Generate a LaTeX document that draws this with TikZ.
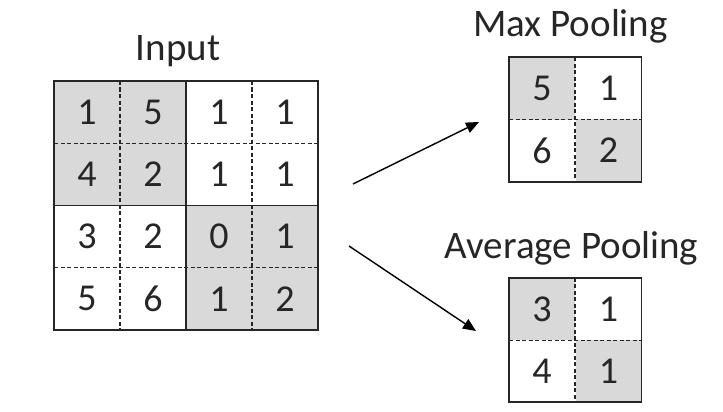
\documentclass[tikz,border=0pt]{standalone}
\usepackage{fontspec}
\setmainfont{Carlito}
\usetikzlibrary{arrows.meta}
\definecolor{graybg}{HTML}{D9D9D9}
\definecolor{ink}{HTML}{262626}
\tikzset{
  cell/.style={minimum width=66pt, minimum height=62.25pt, inner sep=0pt, outer sep=0pt,
    font=\fontsize{38}{38}\selectfont, text=ink},
  pcell/.style={cell, minimum height=62.25pt},
  shaded/.style={fill=graybg},
  dashline/.style={line width=1.1pt, draw=ink, dash pattern=on 4pt off 2.5pt},
  frame/.style={line width=1.8pt, draw=ink},
  title/.style={font=\fontsize{39}{39}\selectfont, text=ink, anchor=base, inner sep=0pt},
  conn/.style={line width=1.4pt, draw=black, -{Triangle[length=13pt,width=11pt]}}
}
\begin{document}
\begin{tikzpicture}[x=1pt,y=-1pt]
\useasboundingbox (0,0) rectangle (723,412);
% input grid
\foreach \r/\row in {1/{1,5,1,1},2/{4,2,1,1},3/{3,2,0,1},4/{5,6,1,2}} {
  \foreach \v [count=\c] in \row {
    \pgfmathtruncatemacro{\sh}{((\r<3)&&(\c<3)) || ((\r>2)&&(\c>2)) ? 1 : 0}
    \ifnum\sh=1
      \node[cell, shaded] (i\r\c) at ({54+66*(\c-0.5)},{81+62.25*(\r-0.5)}) {\v};
    \else
      \node[cell] (i\r\c) at ({54+66*(\c-0.5)},{81+62.25*(\r-0.5)}) {\v};
    \fi
  }
}
\draw[dashline] (i11.north east) -- (i41.south east);
\draw[dashline] (i13.north east) -- (i43.south east);
\draw[dashline] (i11.south west) -- (i14.south east);
\draw[dashline] (i31.south west) -- (i34.south east);
\draw[frame] (i12.north east) -- (i42.south east);
\draw[frame] (i21.south west) -- (i24.south east);
\draw[frame] (i11.north west) rectangle (i44.south east);
\node[title] (tin) at (178,60) {Input};

% max pooling
\node[pcell, shaded] (m11) at (542,88.5) {5};
\node[pcell] (m12) at (608.5,88.5) {1};
\node[pcell] (m21) at (542,150.5) {6};
\node[pcell, shaded] (m22) at (608.5,150.5) {2};
\draw[dashline] (m11.north east) -- (m21.south east);
\draw[dashline] (m11.south west) -- (m12.south east);
\draw[frame] (m11.north west) rectangle (m22.south east);
\node[title] (tmax) at (570.5,37) {Max Pooling};

% average pooling
\node[pcell, shaded] (a11) at (542,309) {3};
\node[pcell] (a12) at (608.5,309) {1};
\node[pcell] (a21) at (542,371) {4};
\node[pcell, shaded] (a22) at (608.5,371) {1};
\draw[dashline] (a11.north east) -- (a21.south east);
\draw[dashline] (a11.south west) -- (a12.south east);
\draw[frame] (a11.north west) rectangle (a22.south east);
\node[title] (tavg) at (571.5,258) {Average Pooling};

% arrows
\coordinate (s1) at (353,184);
\coordinate (e1) at (479,122);
\coordinate (s2) at (349,246);
\coordinate (e2) at (476,331);
\draw[conn] (s1) -- (e1);
\draw[conn] (s2) -- (e2);
\end{tikzpicture}
\end{document}
